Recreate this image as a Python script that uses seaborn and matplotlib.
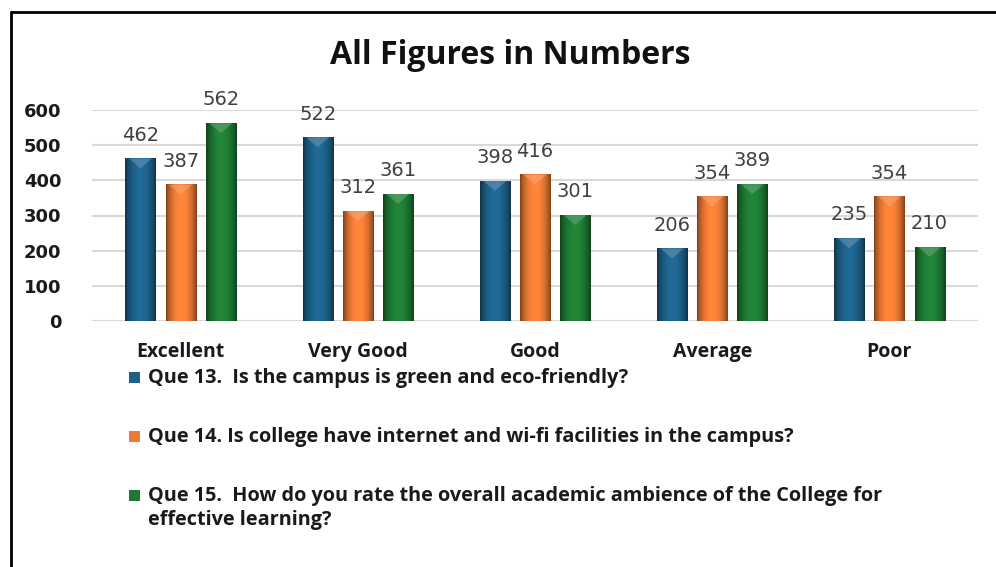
import numpy as np
import pandas as pd
import matplotlib
matplotlib.use("Agg")
import matplotlib.pyplot as plt
import seaborn as sns
from matplotlib.patches import Rectangle, Polygon
from matplotlib.lines import Line2D
from matplotlib.colors import to_rgb

categories = ["Excellent", "Very Good", "Good", "Average", "Poor"]
series_names = [
    "Que 13.  Is the campus is green and eco-friendly?",
    "Que 14. Is college have internet and wi-fi facilities in the campus?",
    "Que 15.  How do you rate the overall academic ambience of the College for\neffective learning?",
]
que13 = [462, 522, 398, 206, 235]
que14 = [387, 312, 416, 354, 354]
que15 = [562, 361, 301, 389, 210]
yticks = [0, 100, 200, 300, 400, 500, 600]
title = "All Figures in Numbers"

colors = ["#1D6189", "#EE7A34", "#1E7A33"]

rows = []
for name, vals in zip(series_names, [que13, que14, que15]):
    for c, v in zip(categories, vals):
        rows.append({"Category": c, "Series": name, "Value": v})
df = pd.DataFrame(rows)

sns.set_theme(style="white")
plt.rcParams["font.family"] = ["DejaVu Sans"]

fig = plt.figure(figsize=(9.96, 5.67), dpi=100)
ax = fig.add_axes([92 / 996, 1 - 321 / 567, (978 - 92) / 996, (321 - 110) / 567])

sns.barplot(data=df, x="Category", y="Value", hue="Series", order=categories,
            hue_order=series_names, palette=colors, width=0.68, gap=0.25,
            ax=ax, legend=False, edgecolor="none", zorder=3)

# cylinder-like shading with a light chevron on top
shade = np.linspace(0, 1, 64)
prof = 0.5 + 0.6 * np.sin(np.pi * shade) ** 0.7
for i, cont in enumerate(ax.containers):
    base = np.array(to_rgb(colors[i]))
    img = np.clip(prof[None, :, None] * base[None, None, :], 0, 1)
    light = np.clip(base + (1 - base) * 0.35, 0, 1)
    for p in cont.patches:
        x, w, h = p.get_x(), p.get_width(), p.get_height()
        ax.imshow(img, extent=(x, x + w, 0, h), aspect="auto",
                  zorder=3.5, clip_path=p, clip_on=True, interpolation="bilinear")
        ax.add_patch(Polygon([(x + 0.12 * w, h), (x + 0.88 * w, h), (x + 0.5 * w, h - 28)],
                             closed=True, facecolor=light, edgecolor="none",
                             alpha=0.55, zorder=3.7))
    ax.bar_label(cont, padding=10, fontsize=14, color="#404040", clip_on=False)
ax.set_ylim(0, 600)
ax.set_xlim(-0.5, 4.5)

ax.set_yticks(yticks)
ax.set_yticklabels([str(t) for t in yticks], fontsize=13, fontweight="bold", color="#1a1a1a")
ax.set_xticks(range(len(categories)))
ax.set_xticklabels(categories, fontdict={"family": "Open Sans", "weight": "bold",
                                         "size": 14, "color": "#1a1a1a"})
ax.tick_params(axis="y", length=0, pad=22)
ax.tick_params(axis="x", length=0, pad=15)
ax.set_xlabel("")
ax.set_ylabel("")
ax.grid(axis="y", color="#d9d9d9", linewidth=1.5, zorder=0)
ax.set_axisbelow(True)
for s in ax.spines.values():
    s.set_visible(False)

fig.text(510 / 996, 1 - 55 / 567, title, ha="center", va="center",
         fontsize=23, fontweight="bold", family="Open Sans", color="#111111")

# legend
ys = [378, 437, 496]
for name, col, y in zip(series_names, colors, ys):
    fig.patches.append(Rectangle((129 / 996, 1 - (y + 5) / 567), 11 / 996, 11 / 567,
                                 transform=fig.transFigure, facecolor=col,
                                 edgecolor="none"))
    fig.text(148 / 996, 1 - (y - 10) / 567, name, ha="left", va="top",
             fontsize=14.3, fontweight="bold", family="Open Sans", color="#1a1a1a",
             linespacing=1.3)

# frame
fig.add_artist(Line2D([11 / 996, 11 / 996], [0, 1 - 12 / 567], transform=fig.transFigure,
                      color="black", linewidth=2))
fig.add_artist(Line2D([11 / 996, 1], [1 - 12 / 567, 1 - 12 / 567], transform=fig.transFigure,
                      color="black", linewidth=2))

fig.savefig("out.png", dpi=100)
